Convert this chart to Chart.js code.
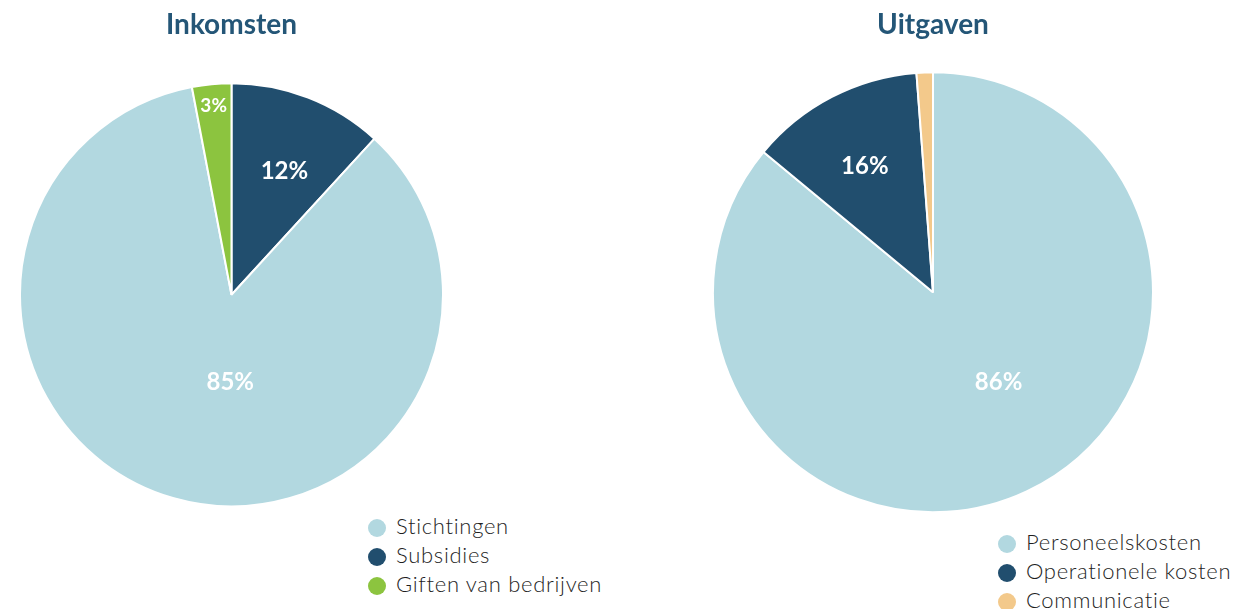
<!DOCTYPE html>
<html>
<head>
<meta charset="utf-8">
<script src="https://cdn.jsdelivr.net/npm/chart.js@4.4.1/dist/chart.umd.min.js"></script>
<style>
  html, body { margin: 0; padding: 0; background: #ffffff; }
  body { width: 1253px; height: 609px; position: relative; overflow: hidden; font-family: Lato, sans-serif; }
  .pie-box { position: absolute; }
  .legend { position: absolute; margin: 0; padding: 0; list-style: none; font-size: 22px; font-weight: 300; letter-spacing: 0.7px; color: #1f1f1f; }
  .legend li { height: 29px; line-height: 29px; white-space: nowrap; }
  .legend .dot { display: inline-block; width: 18px; height: 18px; border-radius: 50%; vertical-align: -3px; margin-right: 10px; }
</style>
</head>
<body>
<div class="pie-box" id="incomeBox" style="left:19px; top:0; width:425px; height:508px;"><canvas id="incomeChart"></canvas></div>
<div class="pie-box" id="expenseBox" style="left:712px; top:0; width:442px; height:514px;"><canvas id="expenseChart"></canvas></div>
<ul class="legend" id="incomeLegend" style="left:368px; top:511px;"></ul>
<ul class="legend" id="expenseLegend" style="left:998px; top:527px;"></ul>

<script>
// Inkomsten (volgorde van de taart, met de klok mee vanaf boven)
const incomeLabels = ['Subsidies', 'Stichtingen', 'Giften van bedrijven'];
const incomeValues = [11.8, 85.2, 3.0];
const incomeTexts = ['12%', '85%', '3%'];
const incomeLegendOrder = ['Stichtingen', 'Subsidies', 'Giften van bedrijven'];

// Uitgaven
const expenseLabels = ['Personeelskosten', 'Operationele kosten', 'Communicatie'];
const expenseValues = [86.0, 12.8, 1.2];
const expenseTexts = ['86%', '16%', ''];
const expenseLegendOrder = ['Personeelskosten', 'Operationele kosten', 'Communicatie'];

const colorLight = '#b2d8e0';
const colorNavy = '#214e6e';
const colorGreen = '#8cc43f';
const colorSand = '#f3c98b';
const colorTitle = '#245677';

// labels in de taart: straal (fractie) en hoekverschuiving (graden)
const sliceLabels = {
    id: 'sliceLabels',
    afterDatasetsDraw(chart, args, opts) {
        const ctx = chart.ctx;
        const meta = chart.getDatasetMeta(0);
        meta.data.forEach((arc, i) => {
            const text = opts.texts[i];
            if (!text) return;
            const p = arc.getProps(['x', 'y', 'startAngle', 'endAngle', 'outerRadius'], true);
            const ang = (p.startAngle + p.endAngle) / 2 + (opts.shift[i] || 0) * Math.PI / 180;
            const r = p.outerRadius * opts.radius[i];
            ctx.save();
            ctx.fillStyle = '#ffffff';
            ctx.font = 'bold ' + opts.size[i] + 'px Lato, sans-serif';
            ctx.textAlign = 'center';
            ctx.textBaseline = 'middle';
            ctx.fillText(text, p.x + Math.cos(ang) * r, p.y + Math.sin(ang) * r);
            ctx.restore();
        });
    }
};

function makePie(canvasId, title, labels, values, colors, labelOpts, titlePad) {
    return new Chart(document.getElementById(canvasId), {
        type: 'pie',
        data: {
            labels: labels,
            datasets: [{
                data: values,
                backgroundColor: colors,
                borderColor: '#ffffff',
                borderWidth: 2
            }]
        },
        options: {
            responsive: true,
            maintainAspectRatio: false,
            animation: false,
            layout: { padding: 0 },
            plugins: {
                legend: { display: false },
                tooltip: { enabled: false },
                title: {
                    display: true,
                    text: title,
                    color: colorTitle,
                    font: { family: 'Lato, sans-serif', size: 28, weight: 'bold' },
                    padding: titlePad
                },
                sliceLabels: labelOpts
            }
        },
        plugins: [sliceLabels]
    });
}

function buildLegend(chart, elId, order) {
    const items = chart.options.plugins.legend.labels.generateLabels(chart);
    items.sort((a, b) => order.indexOf(a.text) - order.indexOf(b.text));
    const ul = document.getElementById(elId);
    items.forEach(item => {
        const li = document.createElement('li');
        const dot = document.createElement('span');
        dot.className = 'dot';
        dot.style.background = item.fillStyle;
        li.appendChild(dot);
        li.appendChild(document.createTextNode(item.text));
        ul.appendChild(li);
    });
}

const incomeChart = makePie('incomeChart', 'Inkomsten', incomeLabels, incomeValues,
    [colorNavy, colorLight, colorGreen],
    { texts: incomeTexts, radius: [0.634, 0.415, 0.896], shift: [2, -15, 0], size: [24, 24, 19] },
    { top: 8, bottom: 40 });

const expenseChart = makePie('expenseChart', 'Uitgaven', expenseLabels, expenseValues,
    [colorLight, colorNavy, colorSand],
    { texts: expenseTexts, radius: [0.505, 0.652, 0], shift: [-11, -1, 0], size: [24, 24, 19] },
    { top: 8, bottom: 29 });

buildLegend(incomeChart, 'incomeLegend', incomeLegendOrder);
buildLegend(expenseChart, 'expenseLegend', expenseLegendOrder);
</script>
</body>
</html>
